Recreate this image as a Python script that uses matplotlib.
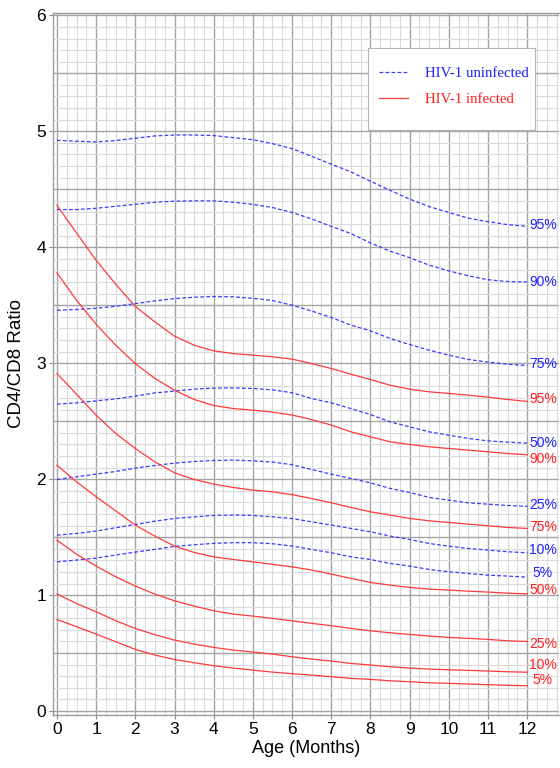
import matplotlib
matplotlib.use("Agg")
import matplotlib.pyplot as plt
from matplotlib.ticker import MultipleLocator
from matplotlib.lines import Line2D
from matplotlib.patches import Rectangle

# ---------------- data ----------------
age = [0, 0.5, 1, 1.5, 2, 2.5, 3, 3.5, 4, 4.5, 5, 5.5, 6, 6.5, 7, 7.5, 8, 8.5, 9, 9.5, 10, 10.5, 11, 11.5, 12]

percentiles = ["95%", "90%", "75%", "50%", "25%", "10%", "5%"]

uninf_95 = [4.922, 4.914, 4.908, 4.920, 4.940, 4.960, 4.968, 4.968, 4.963, 4.945, 4.928, 4.893, 4.850, 4.784, 4.716, 4.650, 4.569, 4.491, 4.415, 4.350, 4.300, 4.250, 4.220, 4.195, 4.180]
uninf_90 = [4.325, 4.325, 4.336, 4.353, 4.370, 4.388, 4.397, 4.400, 4.400, 4.388, 4.370, 4.342, 4.300, 4.244, 4.180, 4.118, 4.037, 3.966, 3.910, 3.845, 3.796, 3.753, 3.720, 3.704, 3.700]
uninf_75 = [3.457, 3.463, 3.474, 3.491, 3.514, 3.537, 3.557, 3.569, 3.575, 3.572, 3.560, 3.540, 3.500, 3.450, 3.394, 3.328, 3.279, 3.213, 3.161, 3.112, 3.069, 3.032, 3.009, 2.991, 2.980]
uninf_50 = [2.647, 2.658, 2.675, 2.692, 2.716, 2.744, 2.759, 2.776, 2.785, 2.787, 2.782, 2.770, 2.745, 2.695, 2.658, 2.609, 2.557, 2.494, 2.451, 2.408, 2.379, 2.351, 2.330, 2.319, 2.310]
uninf_25 = [1.997, 2.020, 2.043, 2.066, 2.095, 2.118, 2.138, 2.152, 2.161, 2.164, 2.158, 2.147, 2.125, 2.083, 2.043, 2.006, 1.968, 1.920, 1.885, 1.842, 1.819, 1.796, 1.784, 1.773, 1.765]
uninf_10 = [1.517, 1.532, 1.552, 1.581, 1.609, 1.638, 1.661, 1.675, 1.687, 1.690, 1.687, 1.675, 1.660, 1.632, 1.604, 1.575, 1.546, 1.509, 1.480, 1.445, 1.422, 1.402, 1.388, 1.374, 1.365]
uninf_5 = [1.287, 1.302, 1.319, 1.345, 1.371, 1.394, 1.420, 1.434, 1.446, 1.452, 1.452, 1.443, 1.423, 1.394, 1.365, 1.330, 1.307, 1.273, 1.250, 1.221, 1.201, 1.187, 1.172, 1.164, 1.155]

inf_95 = [4.362, 4.123, 3.888, 3.681, 3.490, 3.356, 3.233, 3.155, 3.106, 3.083, 3.069, 3.055, 3.035, 2.997, 2.954, 2.905, 2.859, 2.810, 2.776, 2.753, 2.739, 2.724, 2.707, 2.687, 2.670]
inf_90 = [3.780, 3.543, 3.336, 3.155, 2.997, 2.868, 2.767, 2.687, 2.635, 2.609, 2.595, 2.578, 2.553, 2.514, 2.466, 2.408, 2.365, 2.322, 2.299, 2.279, 2.264, 2.250, 2.236, 2.221, 2.210]
inf_75 = [2.911, 2.733, 2.552, 2.394, 2.264, 2.149, 2.055, 1.997, 1.957, 1.928, 1.905, 1.891, 1.866, 1.833, 1.796, 1.756, 1.718, 1.690, 1.661, 1.641, 1.626, 1.612, 1.598, 1.583, 1.575]
inf_50 = [2.121, 1.977, 1.848, 1.727, 1.603, 1.509, 1.422, 1.368, 1.330, 1.307, 1.287, 1.265, 1.244, 1.216, 1.181, 1.144, 1.109, 1.086, 1.066, 1.052, 1.043, 1.034, 1.026, 1.017, 1.010]
inf_25 = [1.474, 1.353, 1.250, 1.158, 1.078, 1.009, 0.951, 0.905, 0.865, 0.836, 0.819, 0.799, 0.778, 0.756, 0.736, 0.713, 0.692, 0.675, 0.661, 0.647, 0.635, 0.627, 0.618, 0.606, 0.600]
inf_10 = [1.009, 0.928, 0.856, 0.779, 0.713, 0.658, 0.612, 0.578, 0.549, 0.526, 0.509, 0.491, 0.468, 0.448, 0.431, 0.411, 0.397, 0.382, 0.371, 0.362, 0.356, 0.351, 0.345, 0.339, 0.335]
inf_5 = [0.790, 0.727, 0.664, 0.598, 0.532, 0.483, 0.445, 0.417, 0.391, 0.371, 0.353, 0.336, 0.322, 0.310, 0.296, 0.282, 0.273, 0.261, 0.253, 0.244, 0.239, 0.233, 0.227, 0.222, 0.218]

uninfected = [uninf_95, uninf_90, uninf_75, uninf_50, uninf_25, uninf_10, uninf_5]
infected = [inf_95, inf_90, inf_75, inf_50, inf_25, inf_10, inf_5]

# end-label vertical placement (value units)
uninf_label_y = [4.19, 3.70, 2.99, 2.31, 1.78, 1.39, 1.19]
inf_label_y = [2.69, 2.17, 1.59, 1.04, 0.58, 0.40, 0.27]

x_ticks = list(range(0, 13))
legend_labels = ["HIV-1 uninfected", "HIV-1 infected"]

# ---------------- styling ----------------
BLUE_LINE = "#3a3aff"
RED_LINE = "#ff3a3a"
BLUE_TXT = "#1f1fff"
RED_TXT = "#ff1f1f"
SANS = ["Liberation Sans", "DejaVu Sans"]
SERIF = ["Liberation Serif", "DejaVu Serif"]

W, H = 560, 768
AX_L, AX_T, AX_W, AX_H = 53, 13, 506, 702

fig = plt.figure(figsize=(5.6, 7.68), dpi=100)
ax = fig.add_axes([AX_L / W, 1 - (AX_T + AX_H) / H, AX_W / W, AX_H / H])

ax.set_xlim(-0.10, 12.81)
ax.set_ylim(-0.034, 6.02)

ax.xaxis.set_minor_locator(MultipleLocator(0.25))
ax.yaxis.set_minor_locator(MultipleLocator(0.1))

ax.grid(which="minor", color="#dadada", linewidth=0.8, zorder=0)
ax.grid(which="major", color="#a4a4a4", linewidth=1.0, zorder=0)
ax.set_axisbelow(True)

ax.set_xticks(x_ticks)
ax.set_xticklabels([str(t) for t in x_ticks], family=SANS, fontsize=12.5)
ax.set_yticks([v * 0.5 for v in range(0, 13)])
ax.set_yticklabels([str(v // 2) if (v % 2 == 0) else "" for v in range(0, 13)],
                   family=SANS, fontsize=12.5)

ax.tick_params(axis="both", which="major", length=3, width=0.8, color="#888888", pad=2)
ax.tick_params(axis="both", which="minor", length=0)
for t, v in zip(ax.yaxis.get_major_ticks(), [v * 0.5 for v in range(13)]):
    if abs(v - round(v)) > 1e-6:
        t.tick1line.set_visible(False)

for side in ["left", "bottom", "top"]:
    ax.spines[side].set_color("#9a9a9a")
    ax.spines[side].set_linewidth(1.0)
ax.spines["right"].set_visible(False)

for vals in uninfected:
    ax.plot(age, vals, color=BLUE_LINE, linewidth=0.9, dashes=(3.0, 1.8), zorder=3)
for vals in infected:
    ax.plot(age, vals, color=RED_LINE, linewidth=0.9, zorder=3)

for lab, yv in zip(percentiles, uninf_label_y):
    ax.text(12.4, yv, lab, color=BLUE_TXT, family=SANS, fontsize=10,
            ha="center", va="center", zorder=5)
for lab, yv in zip(percentiles, inf_label_y):
    ax.text(12.4, yv, lab, color=RED_TXT, family=SANS, fontsize=10,
            ha="center", va="center", zorder=5)

ax.set_xlabel("Age (Months)", family=SANS, fontsize=13, labelpad=2)
ax.set_ylabel("CD4/CD8 Ratio", family=SANS, fontsize=13.5, labelpad=8)

# legend box (white, grey border)
bx0, bx1, by0, by1 = 368, 535, 48, 130
box = Rectangle(((bx0 - AX_L) / AX_W, 1 - (by1 - AX_T) / AX_H),
                (bx1 - bx0) / AX_W, (by1 - by0) / AX_H,
                transform=ax.transAxes, facecolor="white", edgecolor="#b4b4b4",
                linewidth=0.8, zorder=6)
ax.add_patch(box)

handles = [Line2D([0], [0], color=BLUE_LINE, linewidth=0.9, dashes=(3.0, 1.8)),
           Line2D([0], [0], color=RED_LINE, linewidth=0.9)]
leg = ax.legend(handles, legend_labels, loc="upper left",
                bbox_to_anchor=((379 - AX_L) / AX_W, 1 - (67 - AX_T) / AX_H),
                prop={"family": SERIF, "size": 10.7},
                labelcolor=[BLUE_TXT, RED_TXT],
                frameon=False,
                handlelength=1.92, handletextpad=1.17, borderpad=0,
                labelspacing=0.82, borderaxespad=0)
leg.set_zorder(7)

fig.savefig("out.png", dpi=100)
